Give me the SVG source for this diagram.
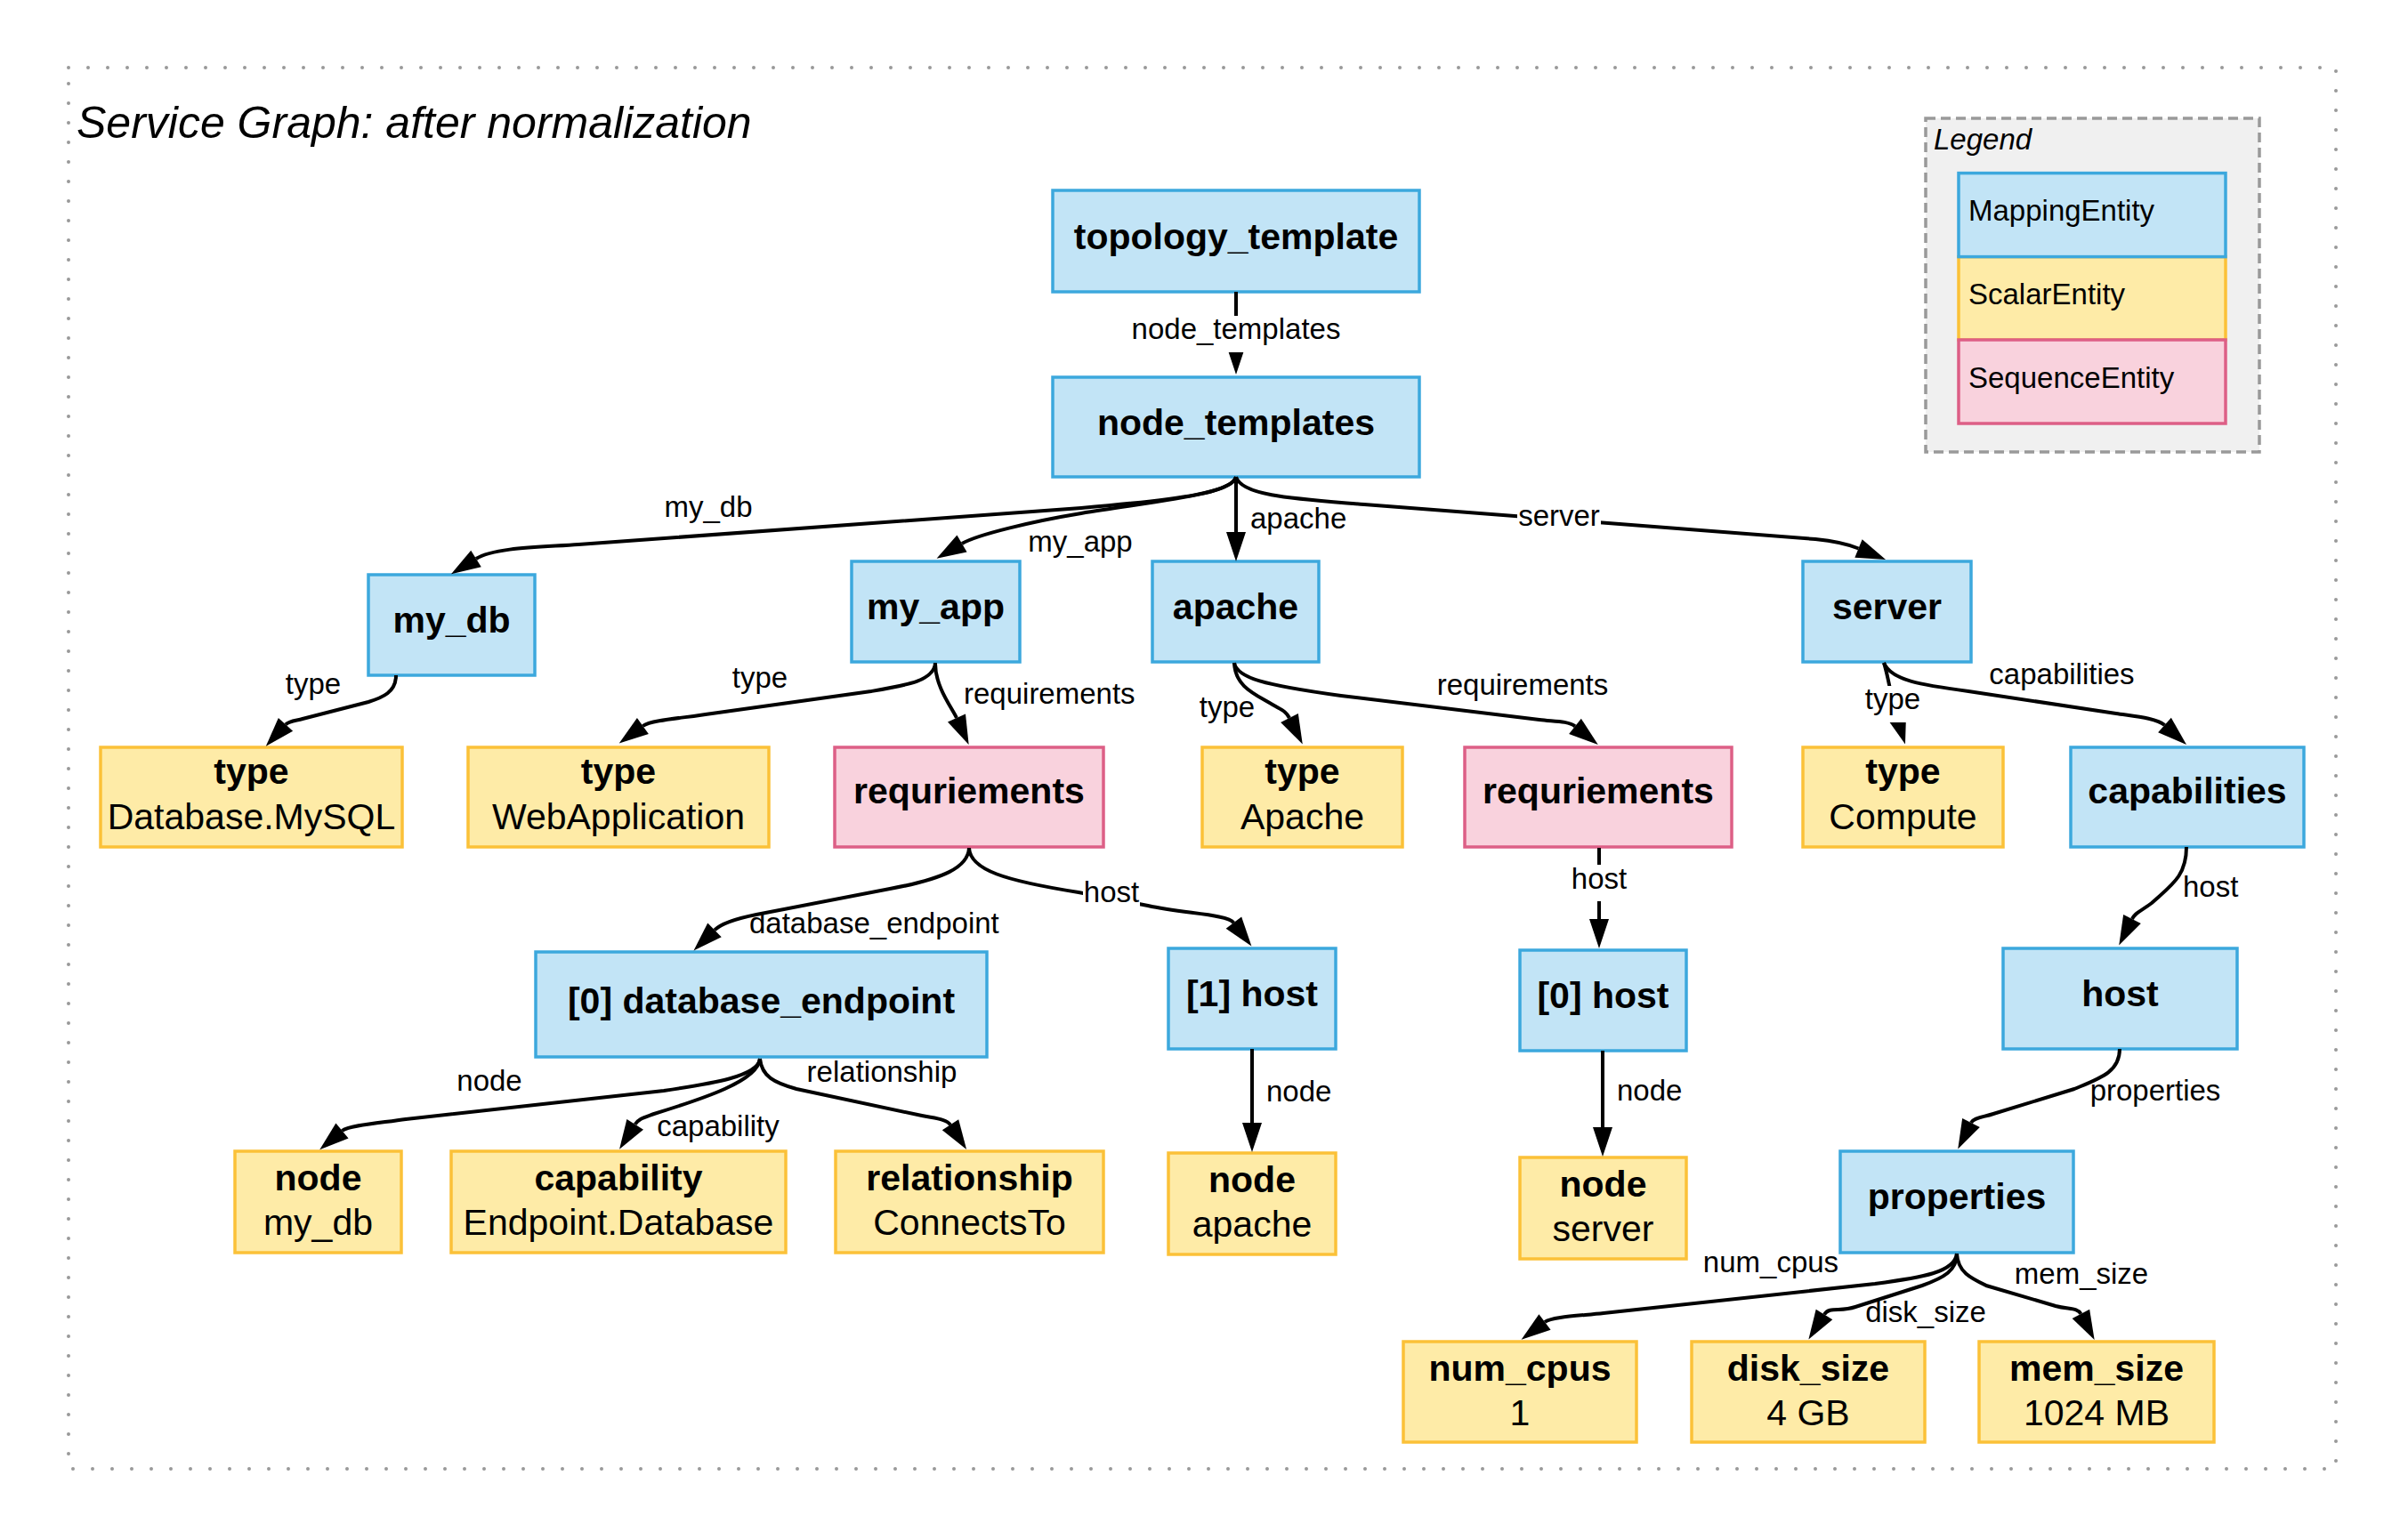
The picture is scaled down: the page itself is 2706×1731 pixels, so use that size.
<svg xmlns="http://www.w3.org/2000/svg" width="2706" height="1731" viewBox="0 0 2706 1731">
<style>
text{font-family:"Liberation Sans",Arial,Helvetica,sans-serif;fill:#000}
.map{fill:#c2e4f6;stroke:#3ca8dd;stroke-width:3.5}
.sca{fill:#feeba7;stroke:#fbc138;stroke-width:3.5}
.seq{fill:#f9d2dd;stroke:#dd5f86;stroke-width:3.5}
.nl{font-size:41px;font-weight:bold;text-anchor:middle}
.nv{font-size:41px;text-anchor:middle}
.el{font-size:33px;text-anchor:middle}
.es{font-size:33px;text-anchor:start}
.edge{fill:none;stroke:#000;stroke-width:4;marker-end:url(#arr)}
.lbg{fill:#fff;stroke:none}
</style>
<defs>
<marker id="arr" markerUnits="userSpaceOnUse" viewBox="0 0 33 22" markerWidth="33" markerHeight="22" refX="0" refY="11" orient="auto" overflow="visible">
<path d="M0,0 L33,11 L0,22 Z" fill="#000"/>
</marker>
</defs>
<rect x="0" y="0" width="2706" height="1731" fill="#fff"/>
<rect x="77" y="76" width="2548" height="1575" fill="none" stroke="#999" stroke-width="4" stroke-dasharray="0 22" stroke-linecap="round"/>
<text x="86" y="155" font-size="50" font-style="italic">Service Graph: after normalization</text>

<g id="legend">
<rect x="2164" y="133" width="375" height="375" fill="#f0f0f0" stroke="#999" stroke-width="3.5" stroke-dasharray="11 6"/>
<text x="2173" y="168" font-size="33" font-style="italic">Legend</text>
<rect class="sca" x="2201" y="288.6" width="300" height="93.4"/>
<rect class="map" x="2201" y="194.6" width="300" height="94"/>
<rect class="seq" x="2201" y="382" width="300" height="94"/>
<text x="2212" y="248" font-size="33">MappingEntity</text>
<text x="2212" y="342" font-size="33">ScalarEntity</text>
<text x="2212" y="436" font-size="33">SequenceEntity</text>
</g>

<g id="n-topology_template"><rect class="map" x="1183" y="214" width="412" height="114"/><text class="nl" x="1389" y="280">topology_template</text></g>
<g id="n-node_templates"><rect class="map" x="1183" y="424" width="412" height="112"/><text class="nl" x="1389" y="489">node_templates</text></g>
<g id="n-my_db"><rect class="map" x="414" y="646" width="187" height="113"/><text class="nl" x="507.5" y="711">my_db</text></g>
<g id="n-my_app"><rect class="map" x="957" y="631" width="189" height="113"/><text class="nl" x="1051.5" y="696">my_app</text></g>
<g id="n-apache"><rect class="map" x="1295" y="631" width="187" height="113"/><text class="nl" x="1388.5" y="696">apache</text></g>
<g id="n-server"><rect class="map" x="2026" y="631" width="189" height="113"/><text class="nl" x="2120.5" y="696">server</text></g>

<g id="n-db_type"><rect class="sca" x="113" y="840" width="339" height="112"/><text class="nl" x="282.5" y="881">type</text><text class="nv" x="282.5" y="932">Database.MySQL</text></g>
<g id="n-app_type"><rect class="sca" x="526" y="840" width="338" height="112"/><text class="nl" x="695" y="881">type</text><text class="nv" x="695" y="932">WebApplication</text></g>
<g id="n-app_req"><rect class="seq" x="938" y="840" width="302" height="112"/><text class="nl" x="1089" y="903">requriements</text></g>
<g id="n-apache_type"><rect class="sca" x="1351" y="840" width="225" height="112"/><text class="nl" x="1463.5" y="881">type</text><text class="nv" x="1463.5" y="932">Apache</text></g>
<g id="n-apache_req"><rect class="seq" x="1646" y="840" width="300" height="112"/><text class="nl" x="1796" y="903">requriements</text></g>
<g id="n-server_type"><rect class="sca" x="2026" y="840" width="225" height="112"/><text class="nl" x="2138.5" y="881">type</text><text class="nv" x="2138.5" y="932">Compute</text></g>
<g id="n-capabilities"><rect class="map" x="2327" y="840" width="262" height="112"/><text class="nl" x="2458" y="903">capabilities</text></g>

<g id="n-db_endpoint"><rect class="map" x="602" y="1070" width="507" height="118"/><text class="nl" x="855.5" y="1139">[0] database_endpoint</text></g>
<g id="n-host1"><rect class="map" x="1313" y="1066" width="188" height="113"/><text class="nl" x="1407" y="1131">[1] host</text></g>
<g id="n-host0"><rect class="map" x="1708" y="1068" width="187" height="113"/><text class="nl" x="1801.5" y="1133">[0] host</text></g>
<g id="n-host"><rect class="map" x="2251" y="1066" width="263" height="113"/><text class="nl" x="2382.5" y="1131">host</text></g>

<g id="n-node_mydb"><rect class="sca" x="264" y="1294" width="187" height="114"/><text class="nl" x="357.5" y="1338">node</text><text class="nv" x="357.5" y="1388">my_db</text></g>
<g id="n-capability"><rect class="sca" x="507" y="1294" width="376" height="114"/><text class="nl" x="695" y="1338">capability</text><text class="nv" x="695" y="1388">Endpoint.Database</text></g>
<g id="n-relationship"><rect class="sca" x="939" y="1294" width="301" height="114"/><text class="nl" x="1089.5" y="1338">relationship</text><text class="nv" x="1089.5" y="1388">ConnectsTo</text></g>
<g id="n-node_apache"><rect class="sca" x="1313" y="1296" width="188" height="114"/><text class="nl" x="1407" y="1340">node</text><text class="nv" x="1407" y="1390">apache</text></g>
<g id="n-node_server"><rect class="sca" x="1708" y="1301" width="187" height="114"/><text class="nl" x="1801.5" y="1345">node</text><text class="nv" x="1801.5" y="1395">server</text></g>
<g id="n-properties"><rect class="map" x="2068" y="1294" width="262" height="114"/><text class="nl" x="2199" y="1359">properties</text></g>

<g id="n-num_cpus"><rect class="sca" x="1577" y="1508" width="262" height="113"/><text class="nl" x="1708" y="1552">num_cpus</text><text class="nv" x="1708" y="1602">1</text></g>
<g id="n-disk_size"><rect class="sca" x="1901" y="1508" width="262" height="113"/><text class="nl" x="2032" y="1552">disk_size</text><text class="nv" x="2032" y="1602">4 GB</text></g>
<g id="n-mem_size"><rect class="sca" x="2224" y="1508" width="264" height="113"/><text class="nl" x="2356" y="1552">mem_size</text><text class="nv" x="2356" y="1602">1024 MB</text></g>

<g id="connectors">
<path class="edge" d="M1389,328 L1389,388"/>
<path class="edge" d="M1389,536 C1385,553 1330,561 1215,571 L650,612 C610,615 556,615 535,628"/>
<path class="edge" d="M1389,536 C1385,556 1300,563 1215,577 C1160,586 1098,601 1081,611"/>
<path class="edge" d="M1389,536 L1389,598"/>
<path class="edge" d="M1389,536 C1395,558 1460,561 1533,567 L2040,606 C2060,608 2075,611 2088.5,616.5"/>
<path class="edge" d="M445,759 C445,778 430,784 414,789 L340,808 C333,810 325,810 321,814.4"/>
<path class="edge" d="M1051,745 C1050,765 1020,770 979,777 L800,802 C770,807 732,809 722.4,816"/>
<path class="edge" d="M1051,746 C1051,772 1070,796 1075,807"/>
<path class="edge" d="M1387,745 C1388,772 1410,780 1430,792 C1440,798 1445,799 1449,807"/>
<path class="edge" d="M1387,745 C1390,762 1420,770 1507,782 L1730,809 C1745,811 1762,810 1770,816.4"/>
<path class="edge" d="M2117,745 C2122,760 2124,780 2131.5,805"/>
<path class="edge" d="M2117,745 C2125,765 2160,770 2212,777 L2378,802 C2398,805 2423.6,807 2432.5,815"/>
<path class="edge" d="M1089,953 C1088,975 1060,988 1000,999 L850,1028 C830,1032 810,1038.5 803,1045.4"/>
<path class="edge" d="M1089,953 C1090,978 1130,990 1212,1003 L1290,1018 C1330,1027 1379,1027.5 1386.4,1037.2"/>
<path class="edge" d="M1797,953 L1797,1033"/>
<path class="edge" d="M2457,952 C2457,985 2440,995 2418,1015 C2405,1025 2400,1025 2396,1033"/>
<path class="edge" d="M854,1190 C852,1210 800,1218 746,1226 L456,1258 C430,1262 392,1264.7 384.5,1271"/>
<path class="edge" d="M854,1190 C852,1215 790,1235 735,1252 C724,1256 718,1257 713.7,1263.8"/>
<path class="edge" d="M854,1190 C856,1210 870,1217 895,1224 L1036,1254 C1050,1257 1063.6,1257.6 1068,1264.3"/>
<path class="edge" d="M1407,1179 L1407,1262"/>
<path class="edge" d="M1801,1181 L1801,1267"/>
<path class="edge" d="M2382,1179 C2382,1205 2360,1212 2331,1224 L2240,1252 C2228,1256 2218,1256 2215,1262"/>
<path class="edge" d="M2199,1409 C2197,1430 2160,1436 2107,1443 L1802,1476 C1775,1479 1744,1480 1736,1486"/>
<path class="edge" d="M2199,1409 C2199,1428 2185,1436 2160,1445 L2085,1469 C2068,1475 2056,1468 2050,1477.5"/>
<path class="edge" d="M2199,1409 C2200,1430 2215,1437 2232,1445 L2310,1468 C2325,1472 2334.7,1469.7 2338.4,1476.8"/>

<rect class="lbg" x="1270" y="355" width="238" height="41"/>
<text class="el" x="1389" y="381">node_templates</text>
<text class="el" x="796" y="581">my_db</text>
<text class="el" x="1214" y="620">my_app</text>
<text class="es" x="1405" y="594">apache</text>
<rect class="lbg" x="1705" y="565" width="94" height="41"/>
<text class="el" x="1752" y="591">server</text>
<text class="el" x="352" y="780">type</text>
<text class="el" x="854" y="773">type</text>
<text class="es" x="1083" y="791">requirements</text>
<text class="el" x="1379" y="806">type</text>
<text class="el" x="1711" y="781">requirements</text>
<rect class="lbg" x="2095" y="771" width="64" height="41"/>
<text class="el" x="2127" y="797">type</text>
<text class="el" x="2317" y="769">capabilities</text>
<text class="es" x="842" y="1049">database_endpoint</text>
<rect class="lbg" x="1217" y="988" width="64" height="41"/>
<text class="el" x="1249" y="1014">host</text>
<rect class="lbg" x="1765" y="972" width="64" height="41"/>
<text class="el" x="1797" y="999">host</text>
<text class="es" x="2453" y="1008">host</text>
<text class="el" x="550" y="1226">node</text>
<text class="el" x="807" y="1277">capability</text>
<text class="el" x="991" y="1216">relationship</text>
<text class="es" x="1423" y="1238">node</text>
<text class="es" x="1817" y="1237">node</text>
<text class="el" x="2422" y="1237">properties</text>
<text class="el" x="1990" y="1430">num_cpus</text>
<text class="el" x="2164" y="1486">disk_size</text>
<text class="el" x="2339" y="1443">mem_size</text>
</g>
</svg>
